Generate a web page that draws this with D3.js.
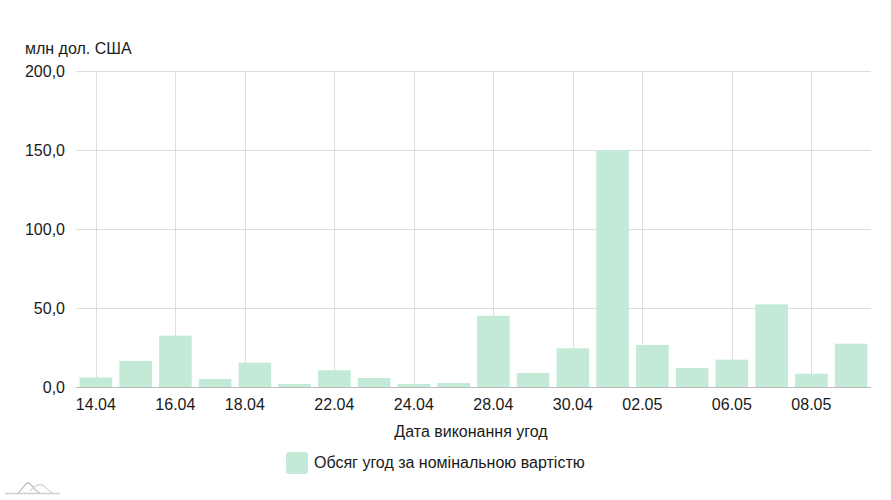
<!DOCTYPE html>
<html><head><meta charset="utf-8">
<script src="https://cdn.jsdelivr.net/npm/d3@7"></script>
<style>body{margin:0;background:#fff}svg{display:block;font-family:"Liberation Sans",Arial,sans-serif}</style>
</head><body><svg id="c" width="891" height="500"></svg>
<script>
const categories = ["14.04","15.04","16.04","17.04","18.04","21.04","22.04","23.04","24.04","25.04","28.04","29.04","30.04","01.05","02.05","05.05","06.05","07.05","08.05","09.05"];
const values = [6.0,16.5,32.5,5.1,15.4,1.9,10.6,5.7,1.9,2.5,45.1,8.9,24.5,150.0,26.6,12.0,17.3,52.3,8.4,27.4];
const tickLabels = ["14.04","16.04","18.04","22.04","24.04","28.04","30.04","02.05","06.05","08.05"];
const yTicks = [0,50,100,150,200];
const seriesName = "Обсяг угод за номінальною вартістю";
const yUnit = "млн дол. США";
const xTitle = "Дата виконання угод";

const svg = d3.select("#c");
const m = {l:76, r:20, t:71, b:113};
const W = 891, H = 500;
const x = d3.scaleBand().domain(categories).range([m.l, W-m.r]).paddingInner(0.18).paddingOuter(0.09);
const y = d3.scaleLinear().domain([0,200]).range([H-m.b, m.t]);
const nudge = {"18.04":-10,"02.05":-10};
const fmt = v => d3.format(".1f")(v).replace(".", ",");
const cx = c => x(c) + x.bandwidth()/2 + (nudge[c]||0);
const FS = 16, TC = "#1a1a1a";

// horizontal grid
svg.append("g").selectAll("line").data(yTicks).join("line")
  .attr("x1", m.l).attr("x2", W-m.r).attr("y1", d=>y(d)+0.5).attr("y2", d=>y(d)+0.5)
  .attr("stroke", "#dedede").attr("stroke-width",1);
// vertical grid
svg.append("g").selectAll("line").data(tickLabels).join("line")
  .attr("x1", d=>Math.round(cx(d))+0.5).attr("x2", d=>Math.round(cx(d))+0.5)
  .attr("y1", y(200)).attr("y2", y(0))
  .attr("stroke","#dedede").attr("stroke-width",1);
// bars
svg.append("g").selectAll("rect").data(values).join("rect")
  .attr("x",(d,i)=>x(categories[i])).attr("width",x.bandwidth())
  .attr("y",d=>y(d)).attr("height",d=>y(0)-y(d))
  .attr("fill","#c2ead7");
// baseline
svg.append("line").attr("x1",m.l).attr("x2",W-m.r).attr("y1",y(0)+0.5).attr("y2",y(0)+0.5)
  .attr("stroke","#bdbdbd");
// y labels
svg.append("g").selectAll("text").data(yTicks).join("text")
  .attr("x",65).attr("y",d=>y(d)+5.5).attr("text-anchor","end")
  .attr("font-size",FS).attr("fill",TC).text(fmt);
// x labels
svg.append("g").selectAll("text").data(tickLabels).join("text")
  .attr("x",d=>cx(d)).attr("y",410).attr("text-anchor","middle")
  .attr("font-size",FS).attr("fill",TC).text(d=>d);
// unit
svg.append("text").attr("x",25).attr("y",54).attr("font-size",FS).attr("fill",TC).text(yUnit);
// x title
svg.append("text").attr("x",471).attr("y",437).attr("text-anchor","middle").attr("font-size",FS).attr("fill",TC).text(xTitle);
// legend
svg.append("rect").attr("x",286).attr("y",452).attr("width",22).attr("height",22).attr("rx",3).attr("fill","#c2ead7");
svg.append("text").attr("x",314).attr("y",467.5).attr("font-size",FS).attr("fill",TC).text(seriesName);
// logo
const lg = svg.append("g").attr("fill","none").attr("stroke-width",1.3);
lg.append("line").attr("x1",5).attr("x2",60).attr("y1",493.5).attr("y2",493.5).attr("stroke","#d0d0d0");
lg.append("path").attr("d","M18,493 C23,489 25,483 28,483 C32,483 35,492 40,493").attr("stroke","#c0c0c0");
lg.append("path").attr("d","M30,491 C34,486 38,484 42,485 C46,486 48,492 53,493").attr("stroke","#d8d8d8");
</script></body></html>
